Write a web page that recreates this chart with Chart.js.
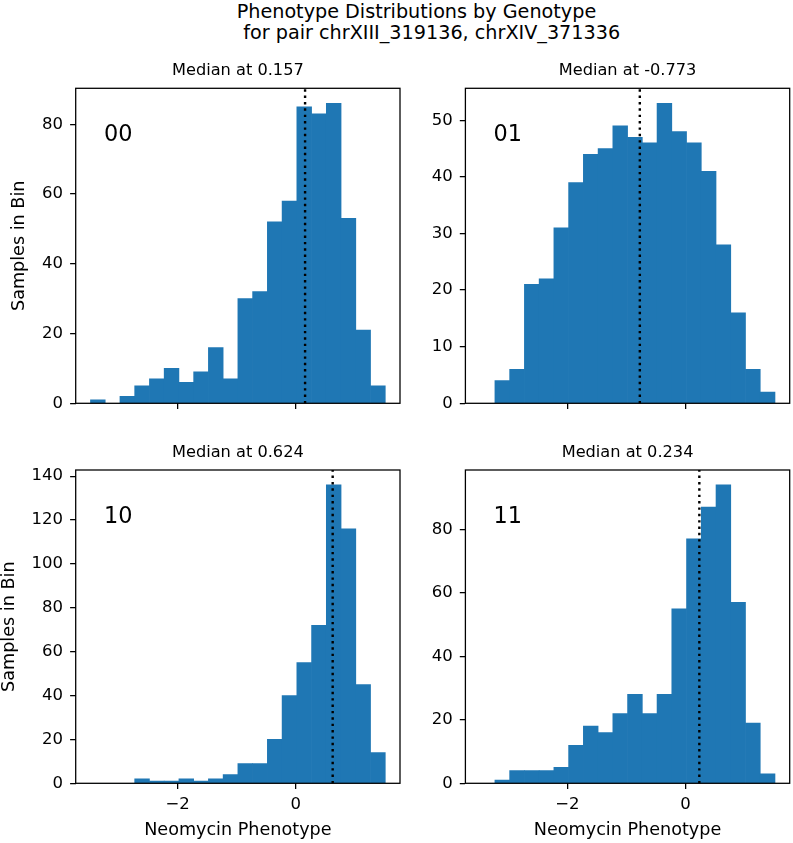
<!DOCTYPE html>
<html>
<head>
<meta charset="utf-8">
<script src="https://cdn.jsdelivr.net/npm/chart.js@4.4.0/dist/chart.umd.min.js"></script>
<style>
  html, body { margin: 0; padding: 0; background: #fff; }
  #fig { position: relative; width: 793px; height: 843px; overflow: hidden; font-family: 'DejaVu Sans', sans-serif; }
  #fig canvas { position: absolute; }
  .suptitle { position: absolute; font-size: 19.2px; line-height: 21px; white-space: pre; color: #000; }
</style>
</head>
<body>
<div id="fig">
  <div class="suptitle" style="left:236.7px; top:1.3px;">Phenotype Distributions by Genotype</div>
  <div class="suptitle" style="left:243.3px; top:22.3px;">for pair chrXIII_319136, chrXIV_371336</div>
  <canvas id="chart-00" width="420" height="390" style="left:0px; top:50px;"></canvas>
  <canvas id="chart-01" width="373" height="390" style="left:420px; top:50px;"></canvas>
  <canvas id="chart-10" width="420" height="403" style="left:0px; top:440px;"></canvas>
  <canvas id="chart-11" width="373" height="403" style="left:420px; top:440px;"></canvas>
</div>
<script>
// bin edges shared by all four histograms (20 bins)
const binEdges = [-3.474, -3.2246, -2.9752, -2.7258, -2.4764, -2.2270, -1.9776, -1.7282, -1.4788, -1.2294,
                  -0.9800, -0.7306, -0.4812, -0.2318, 0.0176, 0.2670, 0.5164, 0.7658, 1.0152, 1.2646, 1.5140];

// samples per bin, one array per genotype
const counts00 = [1, 0, 2, 5, 7, 10, 6, 9, 16, 7, 30, 32, 52, 58, 85, 83, 86, 53, 21, 5];
const counts01 = [0, 4, 6, 21, 22, 31, 39, 44, 45, 49, 47, 46, 53, 48, 46, 41, 28, 16, 6, 2];
const counts10 = [0, 0, 0, 2, 1, 1, 2, 1, 2, 4, 9, 9, 20, 40, 55, 72, 136, 116, 45, 14];
const counts11 = [0, 1, 4, 4, 4, 5, 12, 18, 16, 22, 28, 22, 28, 55, 77, 87, 94, 57, 19, 3];

const genotypes = ['00', '01', '10', '11'];
const medianValues = [0.157, -0.773, 0.624, 0.234];

// axis ranges and tick labels
const xMin = -3.724, xMax = 1.763;
const xTicks = [-2, 0];
const yTicks00 = [0, 20, 40, 60, 80];
const yTicks01 = [0, 10, 20, 30, 40, 50];
const yTicks10 = [0, 20, 40, 60, 80, 100, 120, 140];
const yTicks11 = [0, 20, 40, 60, 80];
const yMaxes = [90.3, 55.65, 142.8, 98.7];

const FONT = "'DejaVu Sans', sans-serif";
Chart.defaults.font.family = FONT;
Chart.defaults.color = '#000';

// panel placement inside each canvas
const panels = [
  { id: 'chart-00', counts: counts00, yTicks: yTicks00, yAxisW: 75.7, top: 38.3, right: 20,  xAxisH: 36.7, xLabels: false, yTitlePad: 10.7 },
  { id: 'chart-01', counts: counts01, yTicks: yTicks01, yAxisW: 45.4, top: 38.3, right: 3.3, xAxisH: 36.7, xLabels: false, yTitlePad: null },
  { id: 'chart-10', counts: counts10, yTicks: yTicks10, yAxisW: 75.7, top: 30,   right: 20,  xAxisH: 59.7, xLabels: true,  yTitlePad: 0.2 },
  { id: 'chart-11', counts: counts11, yTicks: yTicks11, yAxisW: 45.4, top: 30,   right: 3.3, xAxisH: 59.7, xLabels: true,  yTitlePad: null }
];

const panelDecor = {
  id: 'panelDecor',
  afterDatasetsDraw(chart, args, opts) {
    const ctx = chart.ctx, a = chart.chartArea;
    const mx = chart.scales.x.getPixelForValue(opts.median);
    ctx.save();
    ctx.strokeStyle = '#000';
    ctx.lineWidth = 2.4;
    ctx.setLineDash([2.4, 3.96]);
    ctx.beginPath();
    ctx.moveTo(mx, a.bottom);
    ctx.lineTo(mx, a.top);
    ctx.stroke();
    ctx.restore();
  },
  afterDraw(chart, args, opts) {
    const ctx = chart.ctx, a = chart.chartArea;
    ctx.save();
    // axes frame
    ctx.strokeStyle = '#000';
    ctx.lineWidth = 1.28;
    ctx.strokeRect(a.left, a.top, a.right - a.left, a.bottom - a.top);
    // subplot title
    ctx.fillStyle = '#000';
    ctx.font = '16.2px ' + FONT;
    ctx.textAlign = 'center';
    ctx.textBaseline = 'alphabetic';
    ctx.fillText('Median at ' + opts.median.toFixed(3), (a.left + a.right) / 2, a.top - 13.3);
    // genotype label
    ctx.font = '22.4px ' + FONT;
    ctx.textAlign = 'left';
    ctx.fillText(opts.genotype, a.left + 0.087 * (a.right - a.left), a.top + 0.168 * (a.bottom - a.top));
    ctx.restore();
  }
};

panels.forEach((p, k) => {
  const points = p.counts.map((c, i) => ({ x: (binEdges[i] + binEdges[i + 1]) / 2, y: c }));
  new Chart(document.getElementById(p.id), {
    type: 'bar',
    data: {
      datasets: [{
        data: points,
        backgroundColor: '#1f77b4',
        borderWidth: 0,
        barPercentage: 1,
        categoryPercentage: 1
      }]
    },
    options: {
      responsive: false,
      animation: false,
      layout: { padding: { left: 0, top: p.top, right: p.right, bottom: 0 } },
      plugins: {
        legend: { display: false },
        tooltip: { enabled: false },
        panelDecor: { median: medianValues[k], genotype: genotypes[k] }
      },
      scales: {
        x: {
          type: 'linear',
          min: xMin,
          max: xMax,
          bounds: 'data',
          offset: false,
          afterBuildTicks: s => { s.ticks = xTicks.map(v => ({ value: v })); },
          afterFit: s => { s.height = p.xAxisH; },
          grid: { offset: false, drawOnChartArea: false, drawTicks: true, tickLength: 5.6, color: '#000', lineWidth: 1.28 },
          border: { display: false },
          ticks: {
            display: p.xLabels,
            padding: 8,
            maxRotation: 0,
            autoSkip: false,
            font: { size: 16.5, lineHeight: 1 },
            callback: v => v < 0 ? '\u2212' + Math.abs(v) : String(v)
          },
          title: {
            display: p.xLabels,
            text: 'Neomycin Phenotype',
            font: { size: 17.6, lineHeight: 1 },
            padding: { top: 0, bottom: 3.6 }
          }
        },
        y: {
          type: 'linear',
          min: 0,
          max: yMaxes[k],
          bounds: 'data',
          afterBuildTicks: s => { s.ticks = p.yTicks.map(v => ({ value: v })); },
          afterFit: s => { s.width = p.yAxisW; },
          grid: { drawOnChartArea: false, drawTicks: true, tickLength: 5.6, color: '#000', lineWidth: 1.28 },
          border: { display: false },
          ticks: { padding: 7, font: { size: 16.5, lineHeight: 1 } },
          title: {
            display: p.yTitlePad !== null,
            text: 'Samples in Bin',
            font: { size: 17.6, lineHeight: 1 },
            padding: { top: p.yTitlePad || 0, bottom: 0 }
          }
        }
      }
    },
    plugins: [panelDecor]
  });
});
</script>
</body>
</html>
